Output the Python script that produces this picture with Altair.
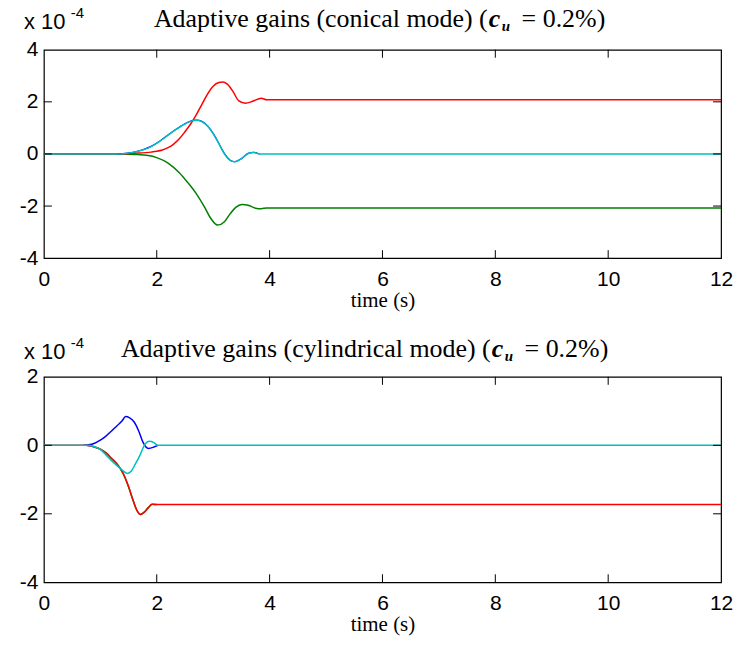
import altair as alt
import pandas as pd

# ---------------- data (values in units of 1e-4) ----------------
top_red_t = [0, 1.3, 1.6, 1.9, 2.0, 2.1, 2.2, 2.3, 2.4, 2.5, 2.6, 2.7, 2.8, 2.9, 3.0, 3.1, 3.17, 3.25, 3.35, 3.45, 3.57, 3.7, 3.85, 3.95, 12]
top_red_v = [0, 0, 0.03, 0.07, 0.1, 0.15, 0.24, 0.38, 0.58, 0.85, 1.15, 1.5, 1.9, 2.3, 2.6, 2.74, 2.76, 2.68, 2.4, 2.05, 1.95, 2.02, 2.14, 2.08, 2.08]

top_green_t = [0, 1.3, 1.6, 1.85, 2.0, 2.2, 2.4, 2.55, 2.7, 2.85, 2.95, 3.08, 3.2, 3.3, 3.4, 3.51, 3.62, 3.75, 3.85, 3.95, 12]
top_green_v = [0, 0, -0.02, -0.06, -0.14, -0.35, -0.72, -1.1, -1.52, -2.05, -2.45, -2.73, -2.6, -2.3, -2.05, -1.94, -1.97, -2.08, -2.1, -2.07, -2.07]

top_cyan_t = [0, 1.3, 1.45, 1.6, 1.75, 1.9, 2.05, 2.2, 2.35, 2.5, 2.6, 2.7, 2.8, 2.9, 3.0, 3.1, 3.2, 3.3, 3.38, 3.5, 3.62, 3.72, 3.82, 12]
top_cyan_v = [0, 0, 0.02, 0.07, 0.15, 0.28, 0.48, 0.72, 0.95, 1.15, 1.25, 1.29, 1.24, 1.07, 0.78, 0.4, 0.0, -0.25, -0.3, -0.18, 0.02, 0.06, 0, 0]

top_blue_t = [1.3, 1.45, 1.6, 1.75, 1.9, 2.05, 2.2, 2.35, 2.5, 2.6, 2.7, 2.8, 2.9, 3.0, 3.1, 3.2, 3.3, 3.38, 3.5, 3.62, 3.72, 3.82]
top_blue_v = [0, 0.02, 0.07, 0.16, 0.29, 0.49, 0.73, 0.96, 1.16, 1.26, 1.30, 1.25, 1.08, 0.79, 0.41, 0.01, -0.24, -0.3, -0.18, 0.02, 0.06, 0]

bot_blue_t = [0.7, 0.85, 1.0, 1.1, 1.2, 1.3, 1.38, 1.45, 1.52, 1.6, 1.68, 1.76, 1.85, 1.95, 2.02]
bot_blue_v = [0, 0.03, 0.15, 0.27, 0.42, 0.58, 0.7, 0.84, 0.8, 0.68, 0.42, 0.08, -0.09, -0.05, 0]

bot_cyan_t = [0, 0.75, 0.9, 1.0, 1.1, 1.2, 1.3, 1.4, 1.48, 1.55, 1.62, 1.7, 1.78, 1.87, 1.95, 2.02, 12]
bot_cyan_v = [0, 0, -0.04, -0.12, -0.28, -0.45, -0.6, -0.74, -0.82, -0.75, -0.55, -0.3, 0.0, 0.12, 0.08, 0, 0]

bot_red_t = [0, 0.75, 0.9, 1.0, 1.1, 1.2, 1.3, 1.4, 1.5, 1.58, 1.65, 1.71, 1.78, 1.85, 1.92, 2.0, 12]
bot_red_v = [0, 0, -0.05, -0.11, -0.22, -0.38, -0.55, -0.8, -1.2, -1.6, -1.9, -2.02, -1.95, -1.82, -1.72, -1.73, -1.73]

bot_green_t = [0.75, 0.9, 1.0, 1.1, 1.2, 1.3, 1.4, 1.5, 1.58, 1.65, 1.71, 1.78, 1.85, 1.92, 2.0]
bot_green_v = [0, -0.05, -0.11, -0.22, -0.39, -0.56, -0.81, -1.21, -1.61, -1.91, -2.02, -1.95, -1.82, -1.72, -1.73]

x_ticks = [0, 2, 4, 6, 8, 10, 12]
x_inner_ticks = [2, 4, 6, 8, 10]
top_y_ticks = [-4, -2, 0, 2, 4]
top_y_inner = [-2, 0, 2]
bot_y_ticks = [-4, -2, 0, 2]
bot_y_inner = [-2, 0]

title_top = "Adaptive gains (conical mode) ("
title_bot = "Adaptive gains (cylindrical mode) ("
title_c = "c"
title_sub = "u"
title_rest = "= 0.2%)"
exp_base = "x 10"
exp_pow = "-4"
x_title = "time (s)"

# ---------------- styling ----------------
W = 679
H1 = 209
H2 = 206
SANS = "Liberation Sans"
SERIF = "Liberation Serif"
TICK_LEN = 8
RED, GREEN, BLUE, CYAN = "#FF0000", "#008000", "#0000FF", "#00BFBF"
LABEL_SIZE = 21
TITLE_SIZE = 26


def make_panel(series, y_dom, y_ticks, y_inner, H, title_main, tx, ty):
    xenc = alt.X(
        "t:Q",
        scale=alt.Scale(domain=[0, 12], nice=False),
        axis=alt.Axis(
            values=x_ticks, ticks=False, domain=False, grid=False,
            labelFont=SANS, labelFontSize=LABEL_SIZE, labelColor="black", labelPadding=10,
            labelFlush=False, labelExpr="'' + datum.value",
            title=x_title, titleFont=SERIF, titleFontSize=21, titleFontWeight="normal",
            titleColor="black", titlePadding=0,
        ),
    )
    yenc = alt.Y(
        "v:Q",
        scale=alt.Scale(domain=y_dom, nice=False),
        axis=alt.Axis(
            values=y_ticks, ticks=False, domain=False, grid=False,
            labelFont=SANS, labelFontSize=LABEL_SIZE, labelColor="black", labelPadding=6,
            labelExpr="'' + datum.value", labelFlush=False, title=None,
        ),
    )
    layers = []
    for t, v, col, sw in series:
        df = pd.DataFrame({"t": t, "v": v})
        layers.append(
            alt.Chart(df).mark_line(color=col, strokeWidth=sw, interpolate="monotone").encode(x=xenc, y=yenc)
        )
    # inward ticks (MATLAB style box)
    dfx = pd.DataFrame({"t": x_inner_ticks})
    dfy = pd.DataFrame({"v": y_inner})
    tick_x = alt.X("t:Q", scale=alt.Scale(domain=[0, 12], nice=False))
    tick_y = alt.Y("v:Q", scale=alt.Scale(domain=y_dom, nice=False))
    layers.append(alt.Chart(dfx).mark_rule(color="black", strokeWidth=1).encode(
        x=tick_x, y=alt.value(0), y2=alt.value(TICK_LEN)))
    layers.append(alt.Chart(dfx).mark_rule(color="black", strokeWidth=1).encode(
        x=tick_x, y=alt.value(H - TICK_LEN), y2=alt.value(H)))
    layers.append(alt.Chart(dfy).mark_rule(color="black", strokeWidth=1).encode(
        y=tick_y, x=alt.value(0), x2=alt.value(TICK_LEN)))
    layers.append(alt.Chart(dfy).mark_rule(color="black", strokeWidth=1).encode(
        y=tick_y, x=alt.value(W - TICK_LEN), x2=alt.value(W)))

    one = pd.DataFrame({"k": [0]})
    def txt(text, x, y, size, font, align="left", weight="normal", style="normal"):
        return alt.Chart(one).mark_text(
            text=text, align=align, baseline="alphabetic", font=font, fontSize=size,
            fontWeight=weight, fontStyle=style, color="black",
        ).encode(x=alt.value(x), y=alt.value(y))

    layers.append(txt(title_main, tx - 1, ty, TITLE_SIZE, SERIF, align="right"))
    layers.append(txt(title_c, tx, ty, TITLE_SIZE, SERIF, weight="bold", style="italic"))
    layers.append(txt(title_sub, tx + 13, ty + 4, 15, SERIF, weight="bold", style="italic"))
    layers.append(txt(title_rest, tx + 33, ty, TITLE_SIZE, SERIF))
    layers.append(txt(exp_base, -20, ty + 2, 22, SANS))
    layers.append(txt(exp_pow, 27, ty - 9, 15, SANS))

    return alt.layer(*layers).properties(width=W, height=H)


top = make_panel(
    [(top_green_t, top_green_v, GREEN, 1.5), (top_red_t, top_red_v, RED, 1.5),
     (top_blue_t, top_blue_v, BLUE, 1.2), (top_cyan_t, top_cyan_v, CYAN, 1.5)],
    [-4, 4], top_y_ticks, top_y_inner, H1, title_top, 446, -23,
)
bot = make_panel(
    [(bot_green_t, bot_green_v, GREEN, 1.5), (bot_blue_t, bot_blue_v, BLUE, 1.5),
     (bot_red_t, bot_red_v, RED, 1.5), (bot_cyan_t, bot_cyan_v, CYAN, 1.5)],
    [-4, 2], bot_y_ticks, bot_y_inner, H2, title_bot, 449, -20,
)

chart = alt.vconcat(top, bot, spacing=24).properties(
    padding={"left": 18, "top": 4, "right": 4, "bottom": 2},
    background="white",
).configure_view(stroke="black", strokeWidth=1.2).resolve_scale(x="independent", y="independent")

chart.save("out.html", embed_options={"renderer": "svg", "actions": False})
